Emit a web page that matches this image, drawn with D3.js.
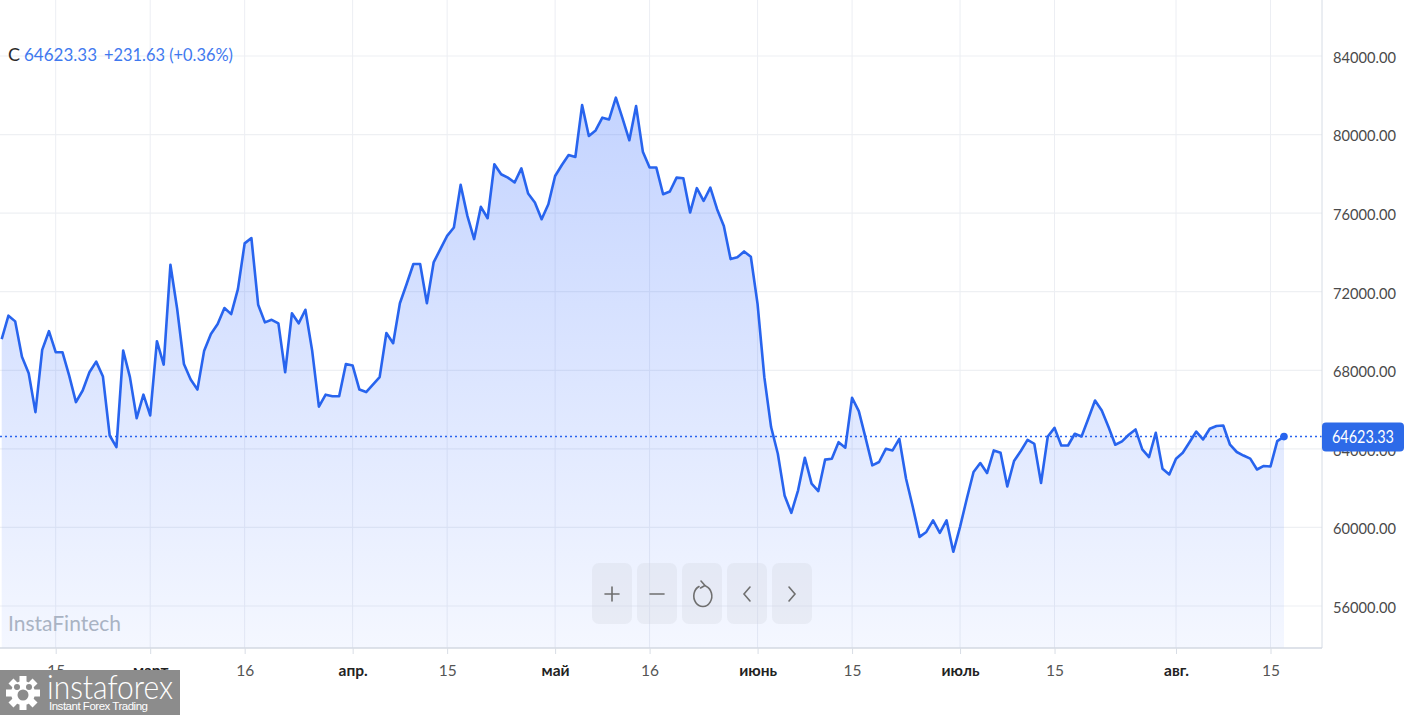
<!DOCTYPE html>
<html>
<head>
<meta charset="utf-8">
<script src="https://cdn.jsdelivr.net/npm/d3@7"></script>
<style>
  html, body { margin: 0; padding: 0; background: #fff; }
  svg { display: block; font-family: Lato, "Noto Sans", sans-serif; }
</style>
</head>
<body>
<svg id="chart" width="1404" height="715"></svg>
<script>
// daily closes
const closeValues = [
  69590, 70780, 70490, 68690, 67850, 65870, 69040, 69990,
  68920, 68920, 67730, 66380, 66970, 67900, 68440, 67680, 64680, 64090,
  69000, 67650, 65560, 66760, 65700, 69480, 68290, 73370, 71120, 68320,
  67530, 67020, 69000, 69850, 70360, 71170, 70860, 72130, 74460, 74730,
  71340, 70440, 70570, 70390, 67900, 70900, 70390, 71080, 69000, 66150,
  66760, 66680, 66680, 68320, 68240, 67020, 66890, 67270, 67650, 69900,
  69380, 71410, 72390, 73410, 73410, 71410, 73490, 74170, 74840, 75270,
  77440, 75860, 74680, 76320, 75740, 78490, 77980, 77810, 77560, 78280,
  77000, 76540, 75690, 76450, 77890, 78450, 78960, 78860, 81500, 79930,
  80210, 80860, 80770, 81880, 80810, 79710, 81450, 79130, 78320, 78320,
  76960, 77100, 77810, 77780, 76030, 77270, 76620, 77300, 76200, 75350,
  73660, 73750, 74050, 73780, 71370, 67650, 65110, 63750, 61630, 60740,
  61890, 63550, 62230, 61850, 63450, 63500, 64340, 64060, 66600, 65920,
  64560, 63160, 63330, 64000, 63920, 64510, 62480, 61040, 59520, 59770,
  60360, 59720, 60360, 58760, 60030, 61460, 62820, 63280, 62770, 63920,
  63800, 62090, 63380, 63890, 64460, 64260, 62260, 64630, 65070, 64170,
  64170, 64770, 64630, 65530, 66460, 65950, 65110, 64210, 64380, 64720,
  64990, 63970, 63580, 64820, 62990, 62700, 63500, 63800, 64340, 64880,
  64480, 65020, 65160, 65190, 64210, 63840, 63660, 63500, 62950, 63130,
  63100, 64391.70, 64623.33
];

const tickIndex = [8, 22, 36, 52, 66, 82, 96, 112, 126, 142, 156, 174, 188];
const tickLabels = ["15", "март", "16", "апр.", "15", "май", "16", "июнь", "15", "июль", "15", "авг.", "15"];
const monthLabels = ["март", "апр.", "май", "июнь", "июль", "авг."];
const priceTicks = [56000, 60000, 64000, 68000, 72000, 76000, 80000, 84000];

const lastClose = closeValues[closeValues.length - 1];
const prevClose = closeValues[closeValues.length - 2];

const width = 1404;
const plotRight = 1322;
const plotBottom = 648;

const svg = d3.select("#chart");
const blue = "#2864ee";
const fmt = d3.format(".2f");

const x = d3.scaleLinear()
  .domain([0, closeValues.length - 1])
  .range([1.7, 1284]);

const y = d3.scaleLinear()
  .domain([56000, 84000])
  .range([606, 56]);

// gradient for the area
const defs = svg.append("defs");
const grad = defs.append("linearGradient")
  .attr("id", "areaFill")
  .attr("gradientUnits", "userSpaceOnUse")
  .attr("x1", 0).attr("y1", 90)
  .attr("x2", 0).attr("y2", plotBottom);
grad.append("stop").attr("offset", "0").attr("stop-color", "#2962ff").attr("stop-opacity", 0.28);
grad.append("stop").attr("offset", "1").attr("stop-color", "#2962ff").attr("stop-opacity", 0.05);

// grid
const grid = svg.append("g");
grid.selectAll(".hgrid")
  .data(priceTicks)
  .join("line")
  .attr("x1", 0).attr("x2", plotRight)
  .attr("y1", d => y(d)).attr("y2", d => y(d))
  .attr("stroke", "#eef0f3").attr("stroke-width", 1.2);

grid.selectAll(".vgrid")
  .data(tickIndex)
  .join("line")
  .attr("x1", d => x(d)).attr("x2", d => x(d))
  .attr("y1", 0).attr("y2", plotBottom)
  .attr("stroke", "#eceef3").attr("stroke-width", 1);

// area + line
const area = d3.area()
  .x((d, i) => x(i))
  .y0(plotBottom)
  .y1(d => y(d));

const line = d3.line()
  .x((d, i) => x(i))
  .y(d => y(d));

svg.append("path")
  .datum(closeValues)
  .attr("d", area)
  .attr("fill", "url(#areaFill)");

svg.append("path")
  .datum(closeValues)
  .attr("d", line)
  .attr("fill", "none")
  .attr("stroke", blue)
  .attr("stroke-width", 2.6)
  .attr("stroke-linejoin", "round");

// last price dotted line
svg.append("line")
  .attr("x1", 0).attr("x2", plotRight)
  .attr("y1", y(lastClose)).attr("y2", y(lastClose))
  .attr("stroke", blue)
  .attr("stroke-width", 1.5)
  .attr("stroke-dasharray", "2,3");

svg.append("circle")
  .attr("cx", x(closeValues.length - 1))
  .attr("cy", y(lastClose))
  .attr("r", 3.8)
  .attr("fill", blue);

// axes frame
svg.append("line")
  .attr("x1", plotRight).attr("x2", plotRight)
  .attr("y1", 0).attr("y2", plotBottom)
  .attr("stroke", "#d6dce5");

// right axis
const yAxis = svg.append("g")
  .attr("transform", `translate(${plotRight},0)`)
  .call(d3.axisRight(y).tickValues(priceTicks).tickSize(0).tickPadding(11).tickFormat(fmt));
yAxis.select(".domain").remove();
yAxis.selectAll("text")
  .attr("dy", "0.4em")
  .attr("fill", "#4a4a4a")
  .style("font-size", "16px")
  .style("font-family", "Lato, sans-serif")
  .attr("textLength", 63)
  .attr("lengthAdjust", "spacingAndGlyphs");

// bottom axis
const xAxis = svg.append("g")
  .attr("transform", `translate(0,${plotBottom})`)
  .call(d3.axisBottom(x).tickValues(tickIndex).tickSize(6).tickPadding(11)
    .tickFormat((d, i) => tickLabels[i]));
xAxis.select(".domain")
  .attr("d", `M0,0H${plotRight}`)
  .attr("stroke", "#d3d9e2")
  .attr("stroke-width", 1.5);
xAxis.selectAll(".tick line").attr("stroke", "#d8dde5");
xAxis.selectAll("text")
  .style("font-size", "15.5px")
  .style("font-family", "Lato, sans-serif")
  .attr("fill", (d, i) => monthLabels.includes(tickLabels[i]) ? "#222" : "#555")
  .style("font-weight", (d, i) => monthLabels.includes(tickLabels[i]) ? "700" : "400");

// price label
const tag = svg.append("g").attr("transform", `translate(${plotRight},${y(lastClose)})`);
tag.append("rect")
  .attr("x", 0).attr("y", -14)
  .attr("width", width - plotRight).attr("height", 29)
  .attr("rx", 4)
  .attr("fill", "#2d6ae8");
tag.append("text")
  .attr("x", 41).attr("y", 6)
  .attr("text-anchor", "middle")
  .attr("fill", "#fff")
  .style("font-size", "17px")
  .attr("textLength", 62)
  .attr("lengthAdjust", "spacingAndGlyphs")
  .text(fmt(lastClose));

// header
const change = lastClose - prevClose;
const header = svg.append("text")
  .attr("x", 8).attr("y", 61)
  .style("font-size", "18px");
header.append("tspan").attr("fill", "#2a2a2a").text("C");
header.append("tspan")
  .attr("x", 24)
  .attr("fill", "#3f79ef")
  .attr("textLength", 73)
  .attr("lengthAdjust", "spacingAndGlyphs")
  .text(fmt(lastClose));
header.append("tspan")
  .attr("x", 104)
  .attr("fill", "#3f79ef")
  .attr("textLength", 129)
  .attr("lengthAdjust", "spacingAndGlyphs")
  .text(`+${fmt(change)} (+${fmt(change / prevClose * 100)}%)`);

// watermark
svg.append("text")
  .attr("x", 8).attr("y", 631)
  .attr("fill", "#a9b3c3")
  .style("font-size", "21px")
  .text("InstaFintech");

// control buttons
const buttons = ["plus", "minus", "reset", "left", "right"];
const btn = svg.selectAll(".btn")
  .data(buttons)
  .join("g")
  .attr("transform", (d, i) => `translate(${592 + i * 45},563)`);
btn.append("rect")
  .attr("width", 40).attr("height", 61).attr("rx", 7)
  .attr("fill", "#cfd4dd").attr("fill-opacity", 0.3);
btn.append("path")
  .attr("fill", "none")
  .attr("stroke", "#6f6f6f")
  .attr("stroke-width", 1.6)
  .attr("stroke-linecap", "round")
  .attr("d", d => {
    if (d === "plus") return "M13,31H27M20,24V38";
    if (d === "minus") return "M13,31H27";
    if (d === "left") return "M23,24L17,31L23,38";
    if (d === "right") return "M17,24L23,31L17,38";
    return "M17,23.5A9,10.5 0 1 0 24,23.2M19,18L23,22.5L18.5,25";
  });

// instaforex logo
const logo = svg.append("g").attr("transform", "translate(0,670)");
logo.append("rect").attr("width", 180).attr("height", 45).attr("fill", "#8c8c8c");
const gear = logo.append("g").attr("transform", "translate(23,23)");
gear.selectAll("rect")
  .data(d3.range(8))
  .join("rect")
  .attr("x", -3.5).attr("y", -17).attr("width", 7).attr("height", 8)
  .attr("transform", d => `rotate(${d * 45})`)
  .attr("fill", "#fff");
gear.append("circle").attr("r", 12).attr("fill", "#fff");
gear.append("circle").attr("r", 5.5).attr("cy", 2).attr("fill", "#8c8c8c");
gear.append("circle").attr("r", 3).attr("cx", -6).attr("cy", -6).attr("fill", "#8c8c8c");
gear.append("circle").attr("r", 3).attr("cx", 6).attr("cy", -6).attr("fill", "#8c8c8c");
logo.append("text")
  .attr("x", 47).attr("y", 29)
  .attr("fill", "#fff")
  .style("font-size", "34px")
  .style("font-weight", "300")
  .attr("textLength", 126)
  .attr("lengthAdjust", "spacingAndGlyphs")
  .text("instaforex");
logo.append("text")
  .attr("x", 49).attr("y", 40)
  .attr("fill", "#fff")
  .style("font-size", "11.5px")
  .style("font-family", "'Liberation Sans', Arial, sans-serif")
  .attr("textLength", 99)
  .text("Instant Forex Trading");
</script>
</body>
</html>
